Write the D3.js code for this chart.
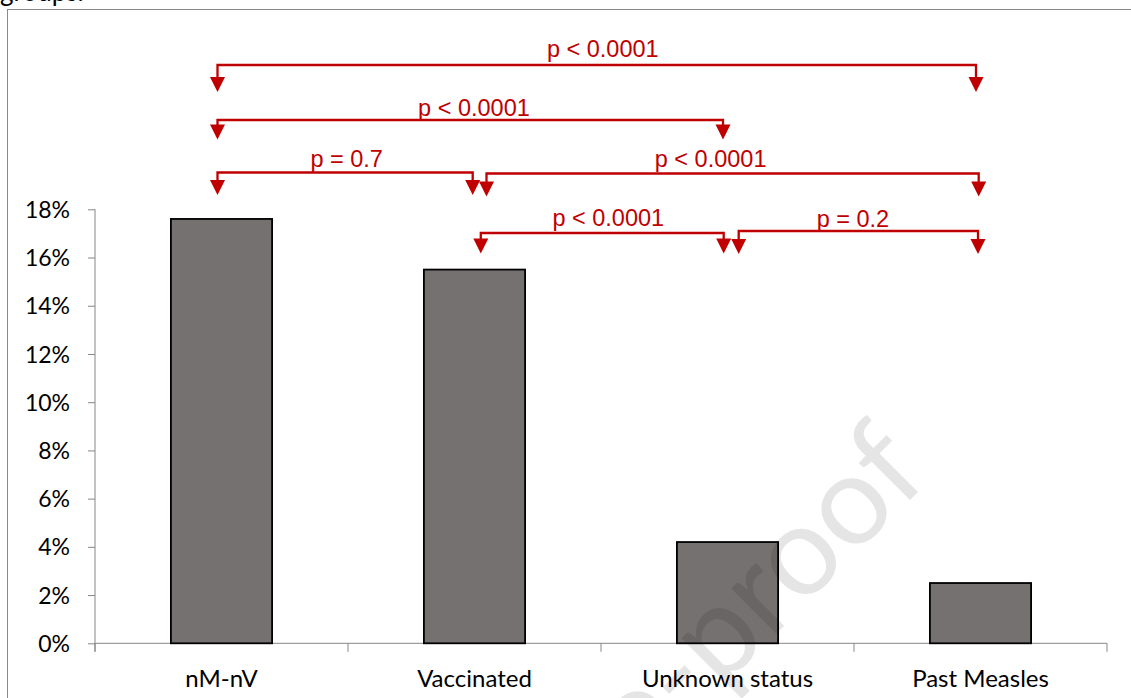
<!DOCTYPE html>
<html>
<head>
<meta charset="utf-8">
<script src="https://cdn.jsdelivr.net/npm/d3@7/dist/d3.min.js"></script>
<style>
  html, body { margin: 0; padding: 0; background: #ffffff; }
  svg { display: block; }
</style>
</head>
<body>
<script>
// ---------------- data ----------------
const categories = ["nM-nV", "Vaccinated", "Unknown status", "Past Measles"];
const rates = [0.176, 0.155, 0.042, 0.025];
const yTicks = [0, 0.02, 0.04, 0.06, 0.08, 0.10, 0.12, 0.14, 0.16, 0.18];
const compFrom = ["nM-nV", "nM-nV", "nM-nV", "Vaccinated", "Vaccinated", "Unknown status"];
const compTo = ["Past Measles", "Unknown status", "Vaccinated", "Past Measles", "Unknown status", "Past Measles"];
const compLabels = ["p < 0.0001", "p < 0.0001", "p = 0.7", "p < 0.0001", "p < 0.0001", "p = 0.2"];

// ---------------- layout (pixels) ----------------
const W = 1131, H = 698;
const plot = { left: 95, right: 1107, top: 209.3, bottom: 643.3 };
// bracket geometry per comparison
const bracketLineY = [65, 120, 172.5, 173.5, 233, 231];
const bracketTipY = [92, 139.5, 195, 196.5, 253.5, 254];
const bracketLeftOff = [-4, -4, -4, 12, 6.3, 11.2];
const bracketRightOff = [-4.5, -4.5, -1.8, -1.8, -3.8, -2.5];
const labelDx = [6, 3.7, 1.6, -22, 6, -5.4];
const labelBaseY = [57.3, 116, 166.7, 167.3, 226, 226.7];

const red = "#C00000";
const axisColor = "#868686";

const svg = d3.select("body").append("svg").attr("width", W).attr("height", H);

// outer frame (extends beyond the viewport)
svg.append("rect")
  .attr("x", 7.5).attr("y", 9.5).attr("width", W + 20).attr("height", H + 20)
  .attr("fill", "none").attr("stroke", "#8a8a8a").attr("stroke-width", 1);

// cut-off caption text at the top
svg.append("text")
  .attr("x", 0).attr("y", 1)
  .attr("font-family", "Lato, sans-serif").attr("font-size", 26)
  .attr("fill", "#000").text("groups.");

// scales
const x = d3.scaleBand().domain(categories).range([plot.left, plot.right])
  .paddingInner(0.6).paddingOuter(0.3);
const step = x.step();
const y = d3.scaleLinear().domain([0, 0.18]).range([plot.bottom, plot.top]);
const cx = c => x(c) + x.bandwidth() / 2;

// y axis
const yAxis = d3.axisLeft(y).tickValues(yTicks).tickSize(7).tickPadding(18)
  .tickFormat(d3.format(".0%"));
const gy = svg.append("g").attr("transform", `translate(${plot.left},0)`).call(yAxis);
gy.select(".domain").attr("stroke", axisColor).attr("d", `M0,${plot.top}V${plot.bottom + 8.5}`);
gy.selectAll(".tick line").attr("stroke", axisColor);
gy.selectAll(".tick text")
  .attr("font-family", "Lato, sans-serif").attr("font-size", 23).attr("fill", "#000")
  .attr("dy", "0.35em");

// x axis line + category boundary ticks
svg.append("line")
  .attr("x1", plot.left).attr("x2", plot.right).attr("y1", plot.bottom).attr("y2", plot.bottom)
  .attr("stroke", axisColor).attr("stroke-width", 1);
const boundaries = d3.range(categories.length + 1).map(i => plot.left + i * step);
svg.selectAll("line.xtick").data(boundaries).join("line")
  .attr("class", "xtick")
  .attr("x1", d => d).attr("x2", d => d)
  .attr("y1", plot.bottom).attr("y2", plot.bottom + 8.5)
  .attr("stroke", axisColor).attr("stroke-width", 1);

svg.selectAll("text.cat").data(categories).join("text")
  .attr("class", "cat")
  .attr("x", d => cx(d)).attr("y", 687)
  .attr("text-anchor", "middle")
  .attr("font-family", "Lato, sans-serif").attr("font-size", 24).attr("fill", "#000")
  .text(d => d);

// bars
svg.selectAll("rect.bar").data(categories).join("rect")
  .attr("class", "bar")
  .attr("x", d => x(d)).attr("width", x.bandwidth())
  .attr("y", (d, i) => y(rates[i]))
  .attr("height", (d, i) => y(0) - y(rates[i]))
  .attr("fill", "#767171").attr("stroke", "#000").attr("stroke-width", 1.8);

// significance brackets
const br = svg.append("g");
compLabels.forEach((lab, i) => {
  const x1 = cx(compFrom[i]) + bracketLeftOff[i];
  const x2 = cx(compTo[i]) + bracketRightOff[i];
  const ly = bracketLineY[i];
  const tip = bracketTipY[i];
  const triTop = tip - 15;
  br.append("path")
    .attr("d", `M${x1},${triTop + 1}V${ly}H${x2}V${triTop + 1}`)
    .attr("fill", "none").attr("stroke", red).attr("stroke-width", 2.3)
    .attr("stroke-linejoin", "miter");
  [x1, x2].forEach(px => {
    br.append("path")
      .attr("d", `M${px - 7.5},${triTop}L${px + 7.5},${triTop}L${px},${tip}Z`)
      .attr("fill", red);
  });
  br.append("text")
    .attr("x", (x1 + x2) / 2 + labelDx[i]).attr("y", labelBaseY[i])
    .attr("text-anchor", "middle")
    .attr("font-family", "'Liberation Sans', Arial, sans-serif").attr("font-size", 23.5)
    .attr("fill", red).text(lab);
});

// watermark
svg.append("text")
  .attr("transform", "translate(932,478) rotate(-45)")
  .attr("text-anchor", "end")
  .attr("font-family", "Lato, sans-serif").attr("font-size", 126)
  .attr("stroke", "#000").attr("stroke-opacity", 0.1).attr("stroke-width", 0)
  .attr("fill", "#000").attr("fill-opacity", 0.1)
  .text("Journal Pre-proof");
</script>
</body>
</html>
